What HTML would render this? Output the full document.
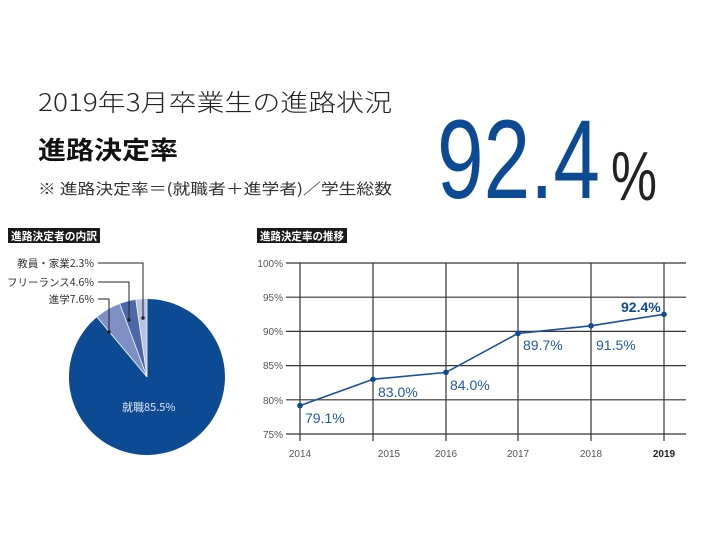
<!DOCTYPE html>
<html><head><meta charset="utf-8"><style>
body{margin:0;background:#fff;}
svg{display:block;font-family:"Liberation Sans","Noto Sans CJK JP",sans-serif;}
</style></head><body>
<svg width="720" height="540" viewBox="0 0 720 540">
<rect width="720" height="540" fill="#fff"/>
<text x="38" y="111" font-size="24" fill="#222" textLength="354" lengthAdjust="spacingAndGlyphs" font-family="Noto Sans CJK JP, sans-serif" font-weight="300">2019年3月卒業生の進路状況</text>
<text x="38" y="159" font-size="25" font-weight="bold" fill="#111" textLength="140" lengthAdjust="spacingAndGlyphs" font-family="Noto Sans CJK JP, sans-serif">進路決定率</text>
<text x="38" y="194" font-size="15" fill="#333" textLength="354" lengthAdjust="spacingAndGlyphs" font-family="Noto Sans CJK JP, sans-serif">※ 進路決定率＝(就職者＋進学者)／学生総数</text>
<text x="437" y="198" font-size="112" fill="#0d4a94" textLength="163" lengthAdjust="spacingAndGlyphs">92.4</text>
<text x="611" y="200" font-size="70" fill="#222" textLength="46" lengthAdjust="spacingAndGlyphs">%</text>

<rect x="8" y="228" width="92" height="15" fill="#1a1a1a"/>
<text x="11" y="240" font-size="11" font-weight="bold" fill="#fff" textLength="86" lengthAdjust="spacingAndGlyphs" font-family="Noto Sans CJK JP, sans-serif">進路決定者の内訳</text>
<rect x="257" y="228" width="90" height="15" fill="#1a1a1a"/>
<text x="260" y="240" font-size="11" font-weight="bold" fill="#fff" textLength="84" lengthAdjust="spacingAndGlyphs" font-family="Noto Sans CJK JP, sans-serif">進路決定率の推移</text>

<g transform="translate(147,377)">
<path d="M0,0 L0,-78 A78,78 0 1 1 -50.0,-59.9 Z" fill="#0d4a94"/>
<path d="M0,0 L-50.0,-59.9 A78,78 0 0 1 -27.2,-73.1 Z" fill="#7d8fc3"/>
<path d="M0,0 L-27.2,-73.1 A78,78 0 0 1 -11.2,-77.2 Z" fill="#4a68aa"/>
<path d="M0,0 L-11.2,-77.2 A78,78 0 0 1 0,-78 Z" fill="#b7c3e3"/>
<g stroke="#fff" stroke-width="0.8"><line x1="0" y1="0" x2="-50" y2="-59.9"/><line x1="0" y1="0" x2="-27.2" y2="-73.1"/><line x1="0" y1="0" x2="-11.2" y2="-77.2"/><line x1="0" y1="0" x2="0" y2="-78"/></g>
</g>
<text x="122" y="411" font-size="11" fill="#dfe6f4" font-family="Noto Sans CJK JP, sans-serif">就職85.5%</text>
<g stroke="#222" stroke-width="1" fill="none">
<polyline points="98,263 143,263 143,318"/>
<polyline points="98,282 129,282 129,320"/>
<polyline points="98,299 109,299 109,332"/>
</g>
<g fill="#222"><circle cx="143" cy="318" r="1.8"/><circle cx="129" cy="320" r="1.8"/><circle cx="109" cy="332" r="1.8"/></g>
<g font-size="10.5" fill="#333" text-anchor="end" font-family="Noto Sans CJK JP, sans-serif">
<text x="94" y="267">教員・家業2.3%</text>
<text x="94" y="286">フリーランス4.6%</text>
<text x="94" y="303">進学7.6%</text>
</g>

<g stroke="#333" stroke-width="1.2">
<line x1="286" y1="263" x2="686" y2="263"/>
<line x1="286" y1="297.2" x2="686" y2="297.2"/>
<line x1="286" y1="331.4" x2="686" y2="331.4"/>
<line x1="286" y1="365.6" x2="686" y2="365.6"/>
<line x1="286" y1="399.8" x2="686" y2="399.8"/>
<line x1="286" y1="434" x2="686" y2="434"/>
<line x1="300" y1="263" x2="300" y2="441"/>
<line x1="373" y1="263" x2="373" y2="441"/>
<line x1="446" y1="263" x2="446" y2="441"/>
<line x1="518" y1="263" x2="518" y2="441"/>
<line x1="591" y1="263" x2="591" y2="441"/>
<line x1="664" y1="263" x2="664" y2="441"/>
</g>
<g font-size="10" fill="#555" text-anchor="end">
<text x="283" y="267">100%</text><text x="283" y="301">95%</text><text x="283" y="335">90%</text>
<text x="283" y="369">85%</text><text x="283" y="404">80%</text><text x="283" y="438">75%</text>
</g>
<g font-size="10" fill="#555" text-anchor="middle">
<text x="300" y="457">2014</text><text x="389" y="457">2015</text><text x="446" y="457">2016</text>
<text x="518" y="457">2017</text><text x="591" y="457">2018</text><text x="664" y="457" font-weight="bold" fill="#222">2019</text>
</g>
<polyline points="300,405.6 373,379.3 446,372.4 518,333.4 591,325.8 664,314.3" fill="none" stroke="#1a4f9c" stroke-width="1.6"/>
<g fill="#0d4a94"><circle cx="300" cy="405.6" r="2.8"/><circle cx="373" cy="379.3" r="2.8"/><circle cx="446" cy="372.4" r="2.8"/><circle cx="518" cy="333.4" r="2.8"/><circle cx="591" cy="325.8" r="2.8"/><circle cx="664" cy="314.3" r="2.8"/></g>
<g font-size="14" fill="#2358a6">
<text x="305" y="423">79.1%</text><text x="378" y="397">83.0%</text><text x="450" y="390">84.0%</text>
<text x="523" y="350">89.7%</text><text x="596" y="350">91.5%</text>
<text x="621" y="312" font-weight="bold" fill="#0d4a94">92.4%</text>
</g>
</svg>
</body></html>
